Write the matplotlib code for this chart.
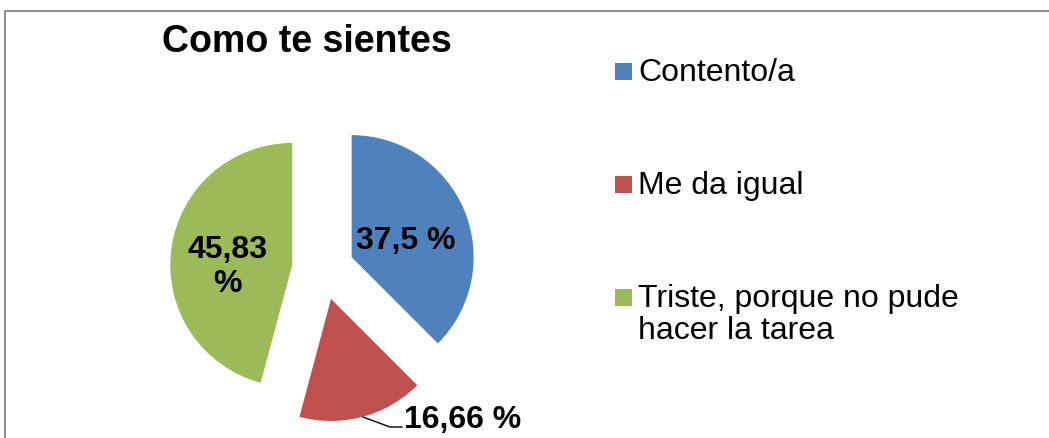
import matplotlib.pyplot as plt
from matplotlib.patches import Rectangle

labels = ['Contento/a', 'Me da igual', 'Triste, porque no pude\nhacer la tarea']
values = [37.5, 16.66, 45.83]
pct_text = ['37,5 %', '16,66 %', '45,83\n%']
colors = ['#4F81BD', '#C0504D', '#9BBB59']

W, H = 1049, 439
plt.rcParams['font.family'] = ['Liberation Sans', 'DejaVu Sans']

fig = plt.figure(figsize=(W / 100, H / 100), dpi=100)
ax = fig.add_axes([0, 0, 1, 1])

# outer chart border (runs past the right and bottom edges)
ax.add_patch(Rectangle((5, -20), W + 20, H - 12 + 20, fill=False,
                       edgecolor='#868686', linewidth=1.3))

# explode is in data units here (pixels), radius 122
wedges, _ = ax.pie(values, colors=colors, startangle=90, counterclock=False,
                   center=(323, H - 270), radius=122,
                   explode=[31, 31, 31], frame=True,
                   wedgeprops=dict(linewidth=0))
ax.set_xlim(0, W)
ax.set_ylim(0, H)
ax.set_aspect('equal')
ax.axis('off')

ax.text(307, H - 42, 'Como te sientes', fontsize=27, fontweight='bold',
        ha='center', va='center')

# data labels
ax.text(406, H - 241, pct_text[0], fontsize=23, fontweight='bold',
        ha='center', va='center')
ax.text(227, H - 267, pct_text[2], fontsize=23, fontweight='bold',
        ha='center', va='center')
ax.text(404, H - 420, pct_text[1], fontsize=23, fontweight='bold',
        ha='left', va='center')
ax.plot([363, 390, 402], [H - 418, H - 428, H - 428], color='black', lw=1)

# legend
leg_y = [72, 185, 298]
for lab, col, y in zip(labels, colors, leg_y):
    ax.add_patch(Rectangle((615, H - y - 8.5), 17, 17, color=col, lw=0))
    ax.text(638, H - y + 14, lab, fontsize=23, ha='left', va='top',
            linespacing=1.1)

fig.savefig('out.png', dpi=100)
